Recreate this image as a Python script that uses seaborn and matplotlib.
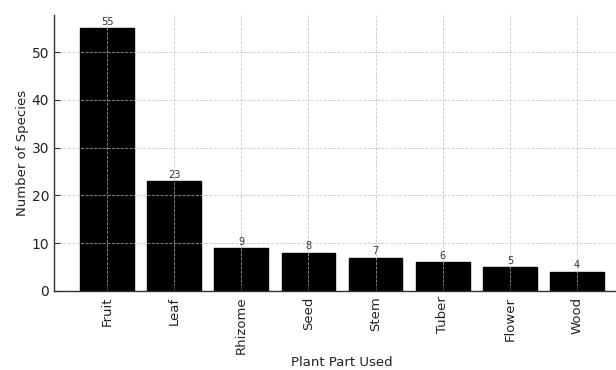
import matplotlib
matplotlib.use("Agg")
import matplotlib.pyplot as plt
import seaborn as sns
import pandas as pd

parts = ["Fruit", "Leaf", "Rhizome", "Seed", "Stem", "Tuber", "Flower", "Wood"]
counts = [55, 23, 9, 8, 7, 6, 5, 4]

df = pd.DataFrame({"part": parts, "count": counts})

sns.set_style("ticks")
plt.rcParams['font.family'] = ['DejaVu Sans']

fig = plt.figure(figsize=(6.16, 3.70), dpi=100)
ax = fig.add_axes([54/616, 1 - 291/370, (630-54)/616, (291-15)/370])

sns.barplot(data=df, x="part", y="count", color="black", saturation=1,
            width=0.8, ax=ax, edgecolor="black")

for c in ax.containers:
    ax.bar_label(c, fontsize=7, padding=1, color="#333333")

ax.set_xlabel("Plant Part Used", fontsize=9.5, color="#222222", labelpad=1)
ax.set_ylabel("Number of Species", fontsize=9.5, color="#222222", labelpad=2)
ax.tick_params(axis="x", rotation=90, labelsize=9.5, direction="in", length=4,
               width=0.8, color="#333333", labelcolor="#222222", pad=4)
ax.tick_params(axis="y", labelsize=10, direction="in", length=4,
               width=0.8, color="#333333", labelcolor="#222222", pad=3.5)
ax.set_xlim(-0.79, 7.79)
ax.set_ylim(0, 57.75)
ax.set_yticks([0, 10, 20, 30, 40, 50])
ax.grid(True, linestyle="--", color="#bbbbbb", linewidth=0.6, alpha=0.8)
ax.set_axisbelow(False)
for s in ["top", "right"]:
    ax.spines[s].set_visible(False)
for s in ["left", "bottom"]:
    ax.spines[s].set_color("#333333")
    ax.spines[s].set_linewidth(1.0)

fig.savefig("out.png", dpi=100)
